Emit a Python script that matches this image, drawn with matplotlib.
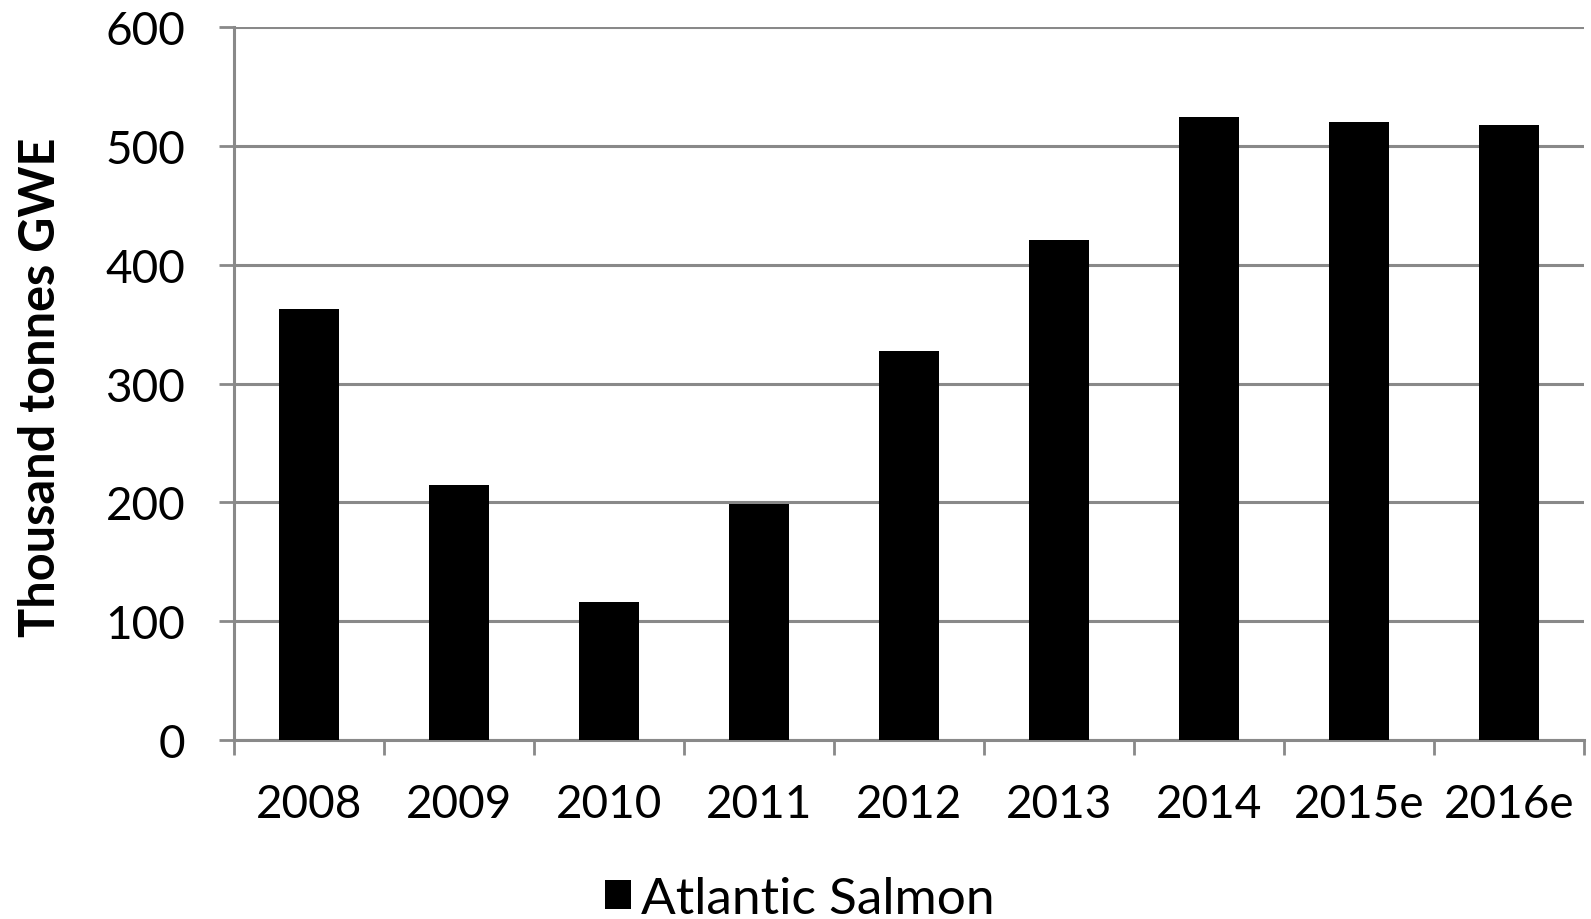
import matplotlib
matplotlib.use('Agg')
import matplotlib.pyplot as plt
from matplotlib.patches import Patch
import numpy as np

# production volume per year, thousand tonnes GWE
years = ['2008', '2009', '2010', '2011', '2012', '2013', '2014', '2015e', '2016e']
salmon = [362.5, 215, 116, 199, 327.5, 421, 524.5, 520, 518]
y_ticks = [0, 100, 200, 300, 400, 500, 600]

plt.rcParams['font.family'] = ['Lato', 'DejaVu Sans']
grid_grey = '#898989'

fig = plt.figure(figsize=(15.91, 9.2), dpi=100)
ax = fig.add_axes([0.1471, 0.1946, 0.8485, 0.7745])

x = np.arange(len(years))
ax.bar(x, salmon, width=0.4, color='black', zorder=3)

ax.set_xlim(-0.5, len(years) - 0.5)
ax.set_ylim(0, 600)
ax.set_yticks(y_ticks)
ax.yaxis.grid(True, color=grid_grey, linewidth=2.2, zorder=0)

# category boundary ticks below the axis, labels centred under bars
ax.set_xticks(np.arange(len(years) + 1) - 0.5)
ax.set_xticklabels([])
ax.set_xticks(x, minor=True)
ax.set_xticklabels(years, minor=True)
ax.tick_params(axis='x', which='major', length=11, width=2, color=grid_grey)
ax.tick_params(axis='x', which='minor', length=0, pad=31, labelsize=33)
ax.tick_params(axis='y', length=11, width=2, color=grid_grey, pad=24, labelsize=33)

for side in ['top', 'right']:
    ax.spines[side].set_visible(False)
for side in ['left', 'bottom']:
    ax.spines[side].set_color(grid_grey)
    ax.spines[side].set_linewidth(2.2)

ax.set_ylabel('Thousand tonnes GWE', fontsize=35, fontweight='bold')
ax.yaxis.set_label_coords(-0.127, 0.497)

handles = [Patch(facecolor='black', label='Atlantic Salmon')]
fig.legend(handles=handles, loc='center', bbox_to_anchor=(0.503, 0.022),
           frameon=False, fontsize=37, handlelength=0.5, handleheight=0.5,
           handletextpad=0.2)

fig.savefig('out.png', dpi=100)
